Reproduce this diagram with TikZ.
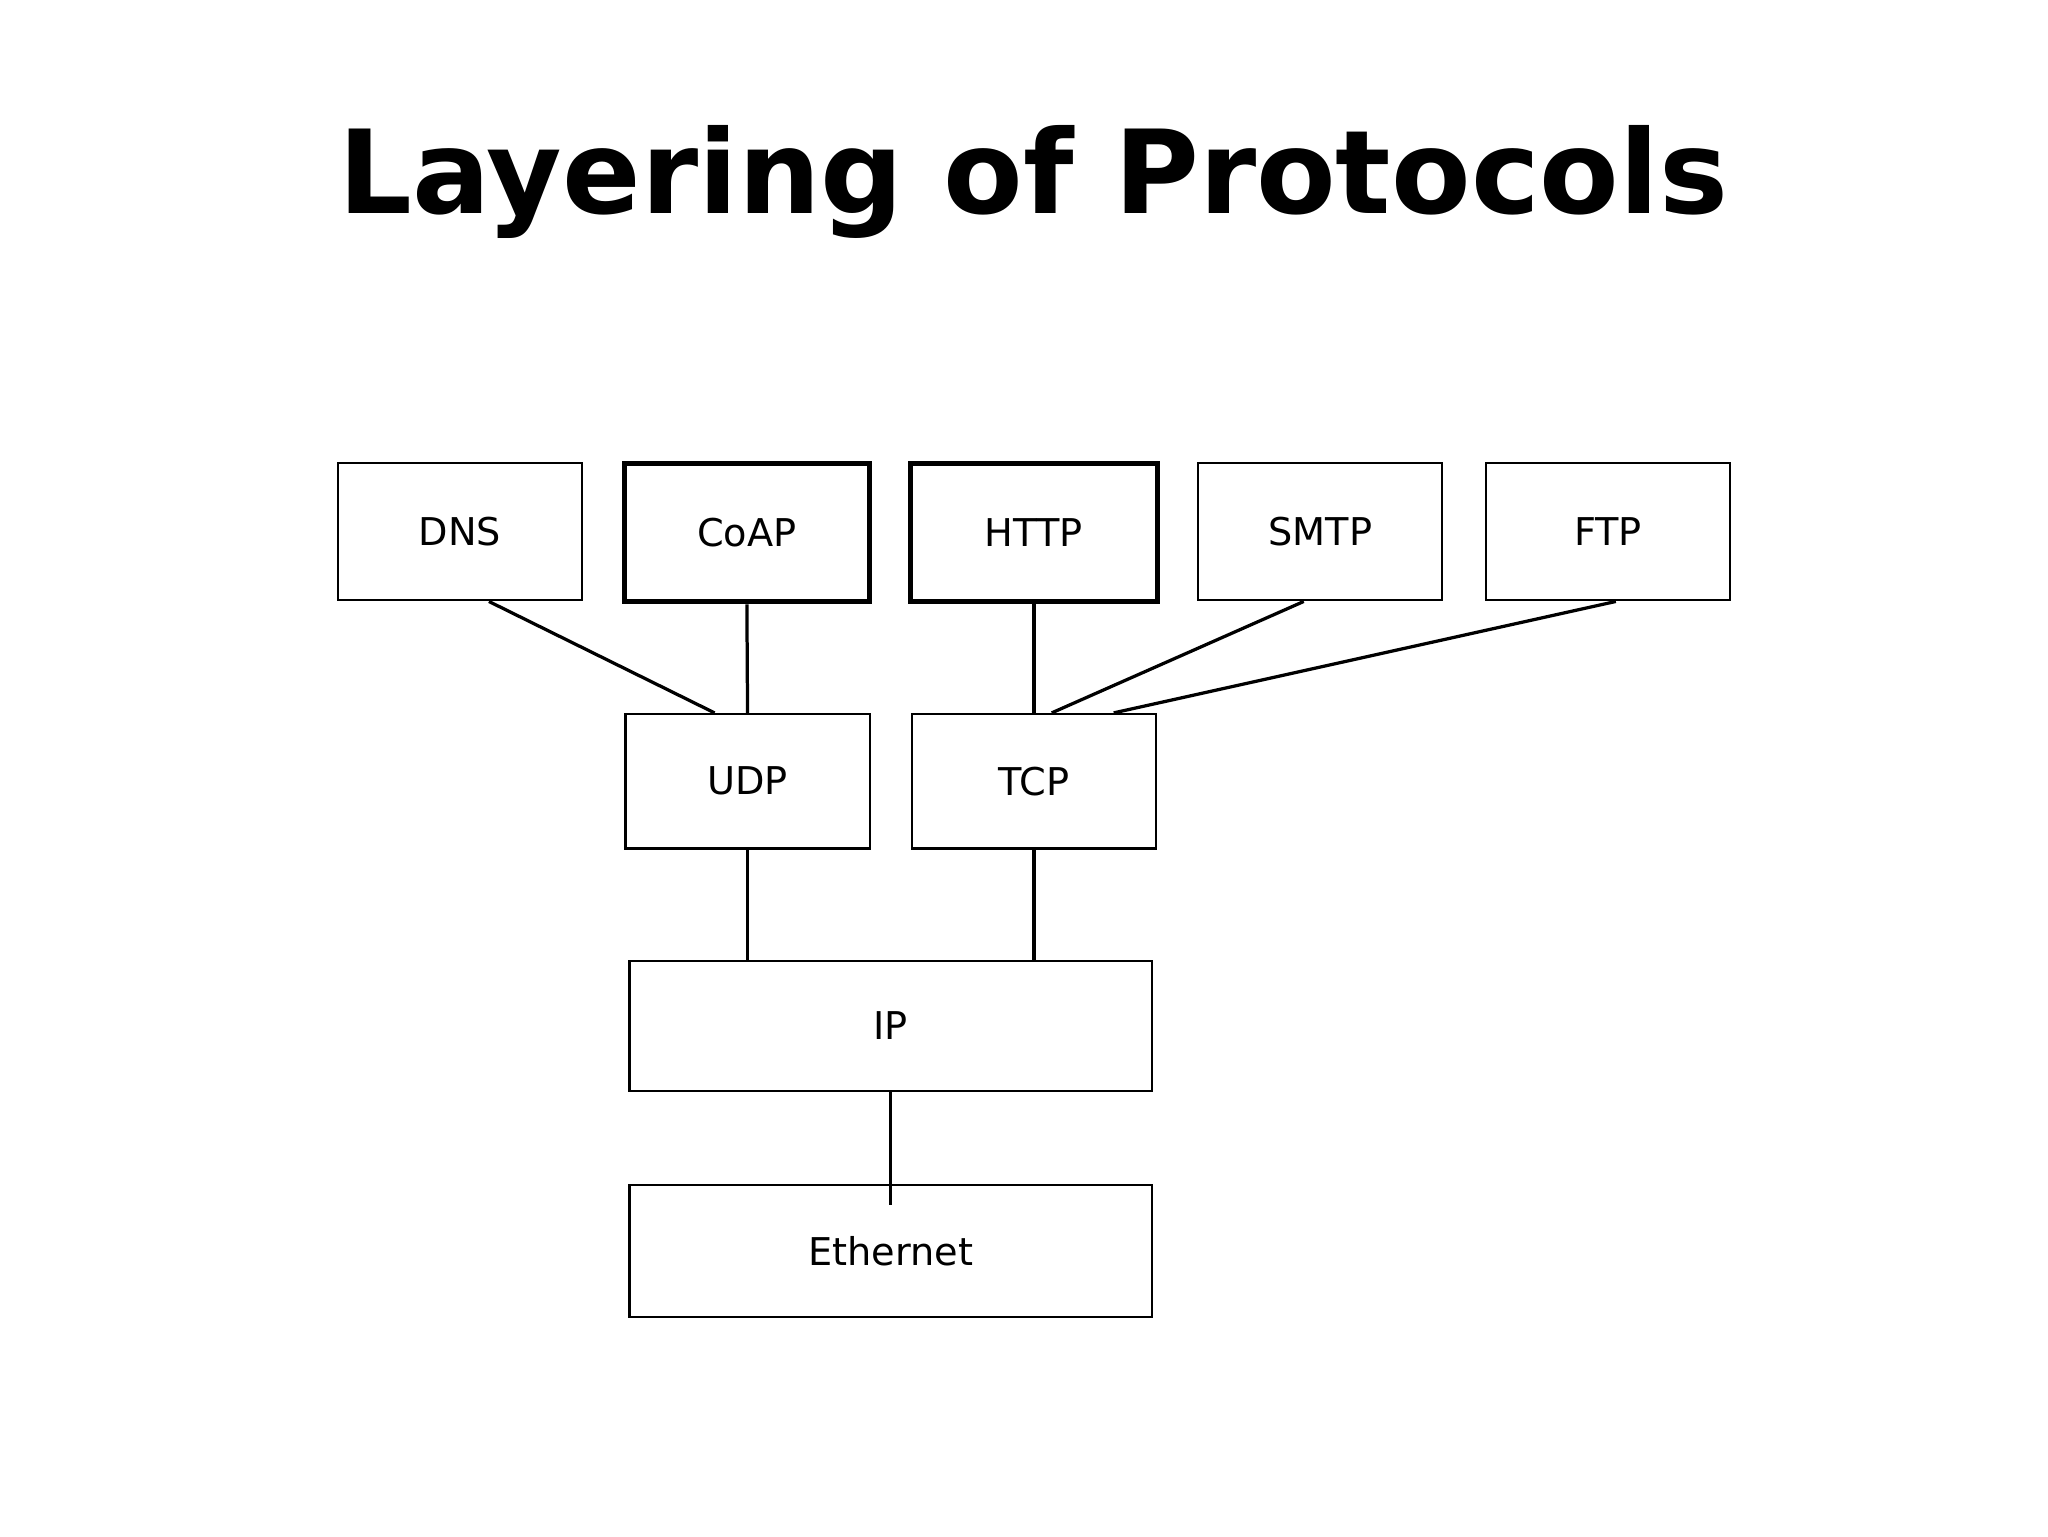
\documentclass[tikz,border=0pt]{standalone}
\usepackage{fontspec}
\setmainfont{DejaVu Sans}
\usetikzlibrary{calc}
\begin{document}
\begin{tikzpicture}[x=0.02cm,y=-0.02cm,
  box/.style={draw,line width=0.9pt,inner sep=0pt,font=\fontsize{16.5}{20}\selectfont},
  thickbox/.style={box,line width=2.3pt},
  link/.style={line width=1.4pt}]
\useasboundingbox (0,0) rectangle (1552,1164);
\node[font=\bfseries\fontsize{50}{60}\selectfont] (title) at (783,138) {Layering of Protocols};
\node[box,minimum width=3.7cm,minimum height=2.08cm] (dns) at (348.5,403) {DNS};
\node[thickbox,minimum width=3.72cm,minimum height=2.1cm] (coap) at (566,403.5) {CoAP};
\node[thickbox,minimum width=3.74cm,minimum height=2.1cm] (http) at (783.5,403.5) {HTTP};
\node[box,minimum width=3.7cm,minimum height=2.08cm] (smtp) at (1000.5,403) {SMTP};
\node[box,minimum width=3.7cm,minimum height=2.08cm] (ftp) at (1218.5,403) {FTP};
\node[box,minimum width=3.7cm,minimum height=2.04cm] (udp) at (566.5,592) {UDP};
\node[box,minimum width=3.7cm,minimum height=2.04cm] (tcp) at (783.5,592) {TCP};
\node[box,minimum width=7.92cm,minimum height=1.98cm] (ip) at (675,777.5) {IP};
\node[box,minimum width=7.92cm,minimum height=2cm] (eth) at (675,948) {Ethernet};
\coordinate (ethin) at (675,913);
\draw[link] ([xshift=0.44cm]dns.south) -- ([xshift=-0.5cm]udp.north);
\draw[link] (coap.south) -- (udp.north);
\draw[link] (http.south) -- (tcp.north);
\draw[link] ([xshift=-0.25cm]smtp.south) -- ([xshift=0.27cm]tcp.north);
\draw[link] ([xshift=0.12cm]ftp.south) -- ([xshift=1.21cm]tcp.north);
\draw[link] (udp.south) -- (udp.south |- ip.north);
\draw[link] (tcp.south) -- (tcp.south |- ip.north);
\draw[link] (ip.south) -- (ethin);
\end{tikzpicture}
\end{document}
